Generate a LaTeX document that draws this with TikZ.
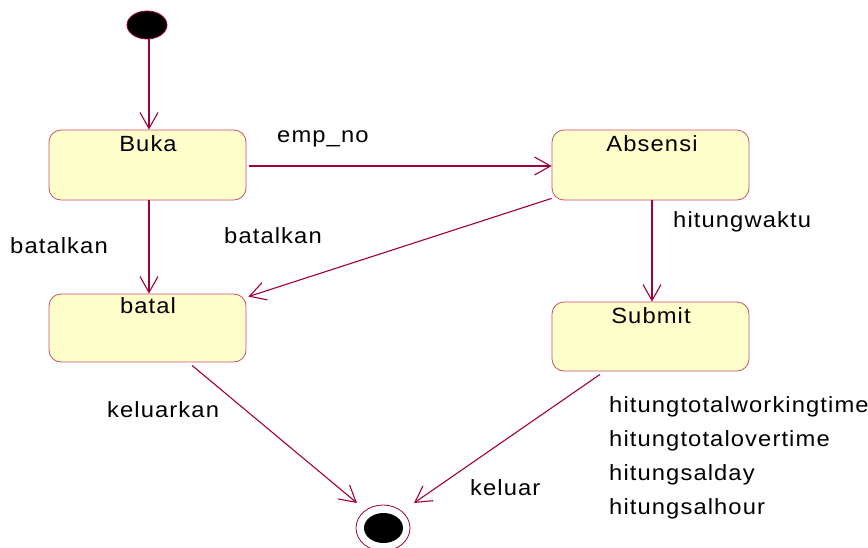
\documentclass[tikz,border=0pt]{standalone}
\usepackage{fontspec}
\setmainfont{Liberation Sans}[LetterSpace=5,FakeStretch=1.08]
\usetikzlibrary{arrows.meta,shapes.geometric,calc}
\definecolor{umlline}{RGB}{160,0,60}
\definecolor{umlborder}{RGB}{200,80,110}
\definecolor{umlfill}{RGB}{255,255,204}
\tikzset{
  state/.style={draw=umlborder, fill=umlfill, rounded corners=12pt,
    minimum width=197pt, minimum height=70pt, line width=0.8pt, inner sep=0pt},
  trans/.style={draw=umlline, line width=1.1pt,
    -{Straight Barb[length=16pt,width=18pt]}},
  lbl/.style={anchor=base west, inner sep=0pt, font=\fontsize{22}{25}\selectfont},
  statename/.style={anchor=base, inner sep=0pt, font=\fontsize{22}{25}\selectfont},
  dot/.style={ellipse, fill=black, draw=umlline, line width=0.8pt, inner sep=0pt},
}
\begin{document}
\begin{tikzpicture}[x=1pt,y=-1pt]
\useasboundingbox (0,0) rectangle (868,547);

% states
\node[state] (buka)    at (147.5,165)   {};
\node[state] (absensi) at (650.5,165)   {};
\node[state, minimum height=68pt] (batal)  at (147.5,328)   {};
\node[state, minimum height=69pt] (submit) at (650.5,336.5) {};

\node[statename] (tbuka)    at (148,151) {Buka};
\node[statename] (tabsensi) at (652,151) {Absensi};
\node[statename] (tbatal)   at (148,313) {batal};
\node[statename] (tsubmit)  at (651,323) {Submit};

% initial and final states
\node[dot, minimum width=40pt, minimum height=28pt] (init) at (147,25) {};
\node[ellipse, draw=umlline, line width=0.8pt, minimum width=54pt, minimum height=46pt, inner sep=0pt] (endo) at (383,528) {};
\node[dot, draw=none, minimum width=39pt, minimum height=30pt] (endi) at (383.5,528) {};

% transitions
\draw[trans] (init.south) ++(2,0) coordinate (i0) -- (i0 |- buka.north);
\draw[trans] ($(buka.south)+(1.5,0)$) -- ($(batal.north)+(1.5,0)$);
\draw[trans] ($(buka.east)+(3,1)$) -- ($(absensi.west)+(0,1)$);
\draw[trans] ($(absensi.south west)+(0,-2)$) -- ($(batal.north east)+(2,3)$);
\draw[trans] ($(absensi.south)+(1.5,0)$) -- ($(submit.north)+(1.5,0)$);
\draw[trans] ($(batal.south)+(44.5,3)$) -- ($(endo.center)+(-26,-25)$);
\draw[trans] ($(submit.south)+(-50.5,3)$) -- ($(endo.center)+(31,-25)$);

% transition labels
\node[lbl] (l1) at (277,142) {emp\_no};
\node[lbl] (l2) at (10,253) {batalkan};
\node[lbl] (l3) at (224,243) {batalkan};
\node[lbl] (l4) at (673,227) {hitungwaktu};
\node[lbl] (l5) at (107,417) {keluarkan};
\node[lbl] (l6) at (470,495) {keluar};
\node[lbl] (l7) at (609,412) {hitungtotalworkingtime};
\node[lbl] (l8) at (609,446) {hitungtotalovertime};
\node[lbl] (l9) at (609,480) {hitungsalday};
\node[lbl] (l10) at (609,514) {hitungsalhour};
\end{tikzpicture}
\end{document}
